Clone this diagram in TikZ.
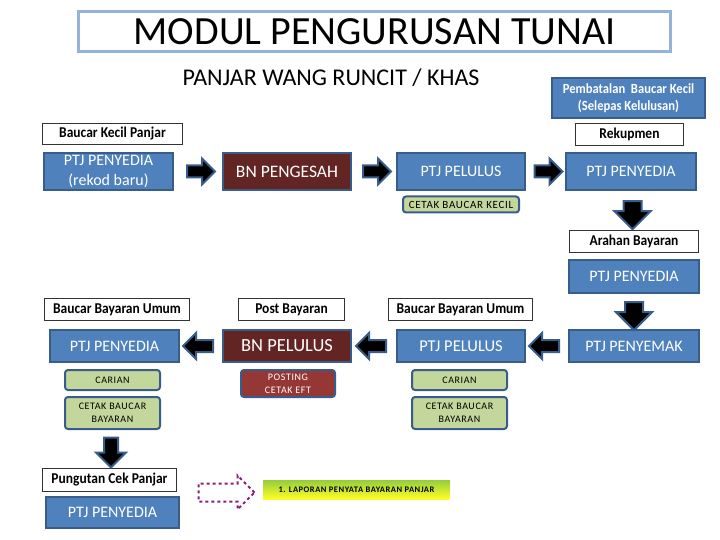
\documentclass[tikz,border=0pt]{standalone}
\usepackage{fontspec}
\setmainfont{Carlito}
\newfontfamily\narrowfont[FakeStretch=0.9]{Carlito}
\newfontfamily\spacedfont[LetterSpace=6]{Carlito}
\usetikzlibrary{positioning, shapes.arrows, calc}
\definecolor{boxblue}{RGB}{79,129,189}
\definecolor{edgeblue}{RGB}{56,93,138}
\definecolor{bnmaroon}{RGB}{99,37,35}
\definecolor{postred}{RGB}{149,55,53}
\definecolor{cetakgreen}{RGB}{195,214,155}
\definecolor{titleedge}{RGB}{149,179,215}
\definecolor{barlime}{RGB}{150,205,60}
\definecolor{dashpurple}{RGB}{140,30,120}

\begin{document}
\begin{tikzpicture}[x=1pt, y=-1pt,
    mainbox/.style={draw=edgeblue, line width=2.5pt, fill=boxblue, text=white, inner sep=0pt, align=center, font=\fontsize{16}{20}\selectfont},
    bnbox/.style={mainbox, fill=bnmaroon},
    tagbox/.style={draw=black!80, line width=0.8pt, fill=white, inner sep=0pt, font=\narrowfont\bfseries\fontsize{15}{16}\selectfont},
    cetak/.style={draw=edgeblue, line width=2pt, fill=cetakgreen, rounded corners=3pt, inner sep=0pt, align=center, font=\spacedfont\fontsize{10}{13}\selectfont},
    barrow/.style={single arrow, fill=black, draw=edgeblue, line width=2pt, minimum height=#1, single arrow head extend=7pt, inner sep=5pt},
    darrow/.style={single arrow, fill=black, draw=edgeblue, line width=2pt, minimum height=#1, single arrow head extend=9pt, inner sep=8pt, shape border rotate=270}
  ]
    \useasboundingbox (0,0) rectangle (720,540);

    % Judul
    \node[draw=titleedge, line width=2.5pt, minimum width=592pt, minimum height=40pt, inner sep=0pt, font=\fontsize{40}{44}\selectfont] (title) at (374.5,31.5) {MODUL PENGURUSAN TUNAI};
    \node[font=\fontsize{24}{28}\selectfont] (sub) at (331,78) {PANJAR WANG RUNCIT / KHAS};
    \node[draw=edgeblue, line width=2pt, fill=boxblue, text=white, minimum width=153pt, minimum height=40pt, inner sep=0pt, align=center, font=\narrowfont\bfseries\fontsize{14}{17}\selectfont] (batal) at (628.5,98) {Pembatalan \ Baucar Kecil\\(Selepas Kelulusan)};

    % Baris pertama
    \node[tagbox, minimum width=140pt, minimum height=21pt] (bkp) at (112.5,134) {Baucar Kecil Panjar};
    \node[tagbox, minimum width=108pt, minimum height=22pt] (rek) at (629.5,134.5) {Rekupmen};
    \node[mainbox, minimum width=129pt, minimum height=37pt] (p1) at (108.5,171.5) {PTJ PENYEDIA\\(rekod baru)};
    \node[bnbox, minimum width=128pt, minimum height=37pt, font=\fontsize{17.5}{20}\selectfont] (bn1) at (287,171.5) {BN PENGESAH};
    \node[mainbox, minimum width=128pt, minimum height=37pt] (pl1) at (461,171.5) {PTJ PELULUS};
    \node[mainbox, minimum width=130pt, minimum height=37pt] (pn1) at (631,171.5) {PTJ PENYEDIA};
    \node[cetak, minimum width=116pt, minimum height=16pt, font=\spacedfont\fontsize{11}{13}\selectfont] (ck) at (461,204.5) {CETAK BAUCAR KECIL};

    \node[barrow=28pt] (a1) at ($(p1.east)!.5!(bn1.west)$) {};
    \node[barrow=28pt] (a2) at ($(bn1.east)!.5!(pl1.west)$) {};
    \node[barrow=28pt] (a3) at ($(pl1.east)!.5!(pn1.west)$) {};

    % Lajur kanan
    \node[tagbox, minimum width=129pt, minimum height=22pt] (arh) at (634,241.5) {Arahan Bayaran};
    \node[mainbox, minimum width=130pt, minimum height=33pt] (pn2) at (634,276.5) {PTJ PENYEDIA};
    \node[darrow=28pt] (d1) at ($(pn1.south)!.5!(arh.north)$) {};
    \node[darrow=28pt] (d2) at ($(pn2.south)!.5!(634,329)$) {};

    % Baris ketiga
    \node[tagbox, minimum width=145pt, minimum height=22pt] (bbu1) at (117,309.5) {Baucar Bayaran Umum};
    \node[tagbox, minimum width=106pt, minimum height=22pt] (pb) at (291.5,309.5) {Post Bayaran};
    \node[tagbox, minimum width=144pt, minimum height=22pt] (bbu2) at (460.5,309.5) {Baucar Bayaran Umum};
    \node[mainbox, minimum width=129pt, minimum height=32pt] (p3) at (114.5,346) {PTJ PENYEDIA};
    \node[bnbox, minimum width=128pt, minimum height=32pt, font=\fontsize{18.5}{20}\selectfont] (bn3) at (287,346) {BN PELULUS};
    \node[mainbox, minimum width=128pt, minimum height=32pt, font=\fontsize{16.5}{20}\selectfont] (pl3) at (461,346) {PTJ PELULUS};
    \node[mainbox, minimum width=130pt, minimum height=32pt] (pm3) at (634,346) {PTJ PENYEMAK};

    \node[barrow=30pt, shape border rotate=180] (a4) at ($(pm3.west)!.5!(pl3.east)$) {};
    \node[barrow=30pt, shape border rotate=180] (a5) at ($(pl3.west)!.5!(bn3.east)$) {};
    \node[barrow=30pt, shape border rotate=180] (a6) at ($(bn3.west)!.5!(p3.east)$) {};

    \node[cetak, minimum width=95pt, minimum height=20pt] (car1) at (112.5,380) {CARIAN};
    \node[cetak, minimum width=95pt, minimum height=32pt] (cbb1) at (112.5,413) {CETAK BAUCAR\\BAYARAN};
    \node[cetak, fill=postred, text=white, minimum width=94pt, minimum height=27pt] (post) at (288,383.5) {POSTING\\CETAK EFT};
    \node[cetak, minimum width=95pt, minimum height=20pt] (car2) at (459.5,380) {CARIAN};
    \node[cetak, minimum width=95pt, minimum height=32pt] (cbb2) at (459.5,413) {CETAK BAUCAR\\BAYARAN};

    % Pungutan
    \node[tagbox, minimum width=134pt, minimum height=23pt] (pcp) at (109.5,480) {Pungutan Cek Panjar};
    \node[mainbox, minimum width=133pt, minimum height=31pt] (pn4) at (112.5,512.5) {PTJ PENYEDIA};
    \node[darrow=30pt, inner sep=6pt, single arrow head extend=8pt] (d3) at ($(cbb1.south)!.5!(pcp.north)$) {};

    \node[single arrow, draw=dashpurple, dashed, line width=2pt, minimum height=56pt, inner sep=8pt, single arrow head extend=8pt] (dash) at (222,492.5) {};
    \node[top color=barlime, bottom color=yellow!85!white, minimum width=187pt, minimum height=19pt, inner sep=0pt, font=\spacedfont\bfseries\fontsize{8.5}{9}\selectfont] (lap) at (356.5,489.5) {1. LAPORAN PENYATA BAYARAN PANJAR};
\end{tikzpicture}
\end{document}
